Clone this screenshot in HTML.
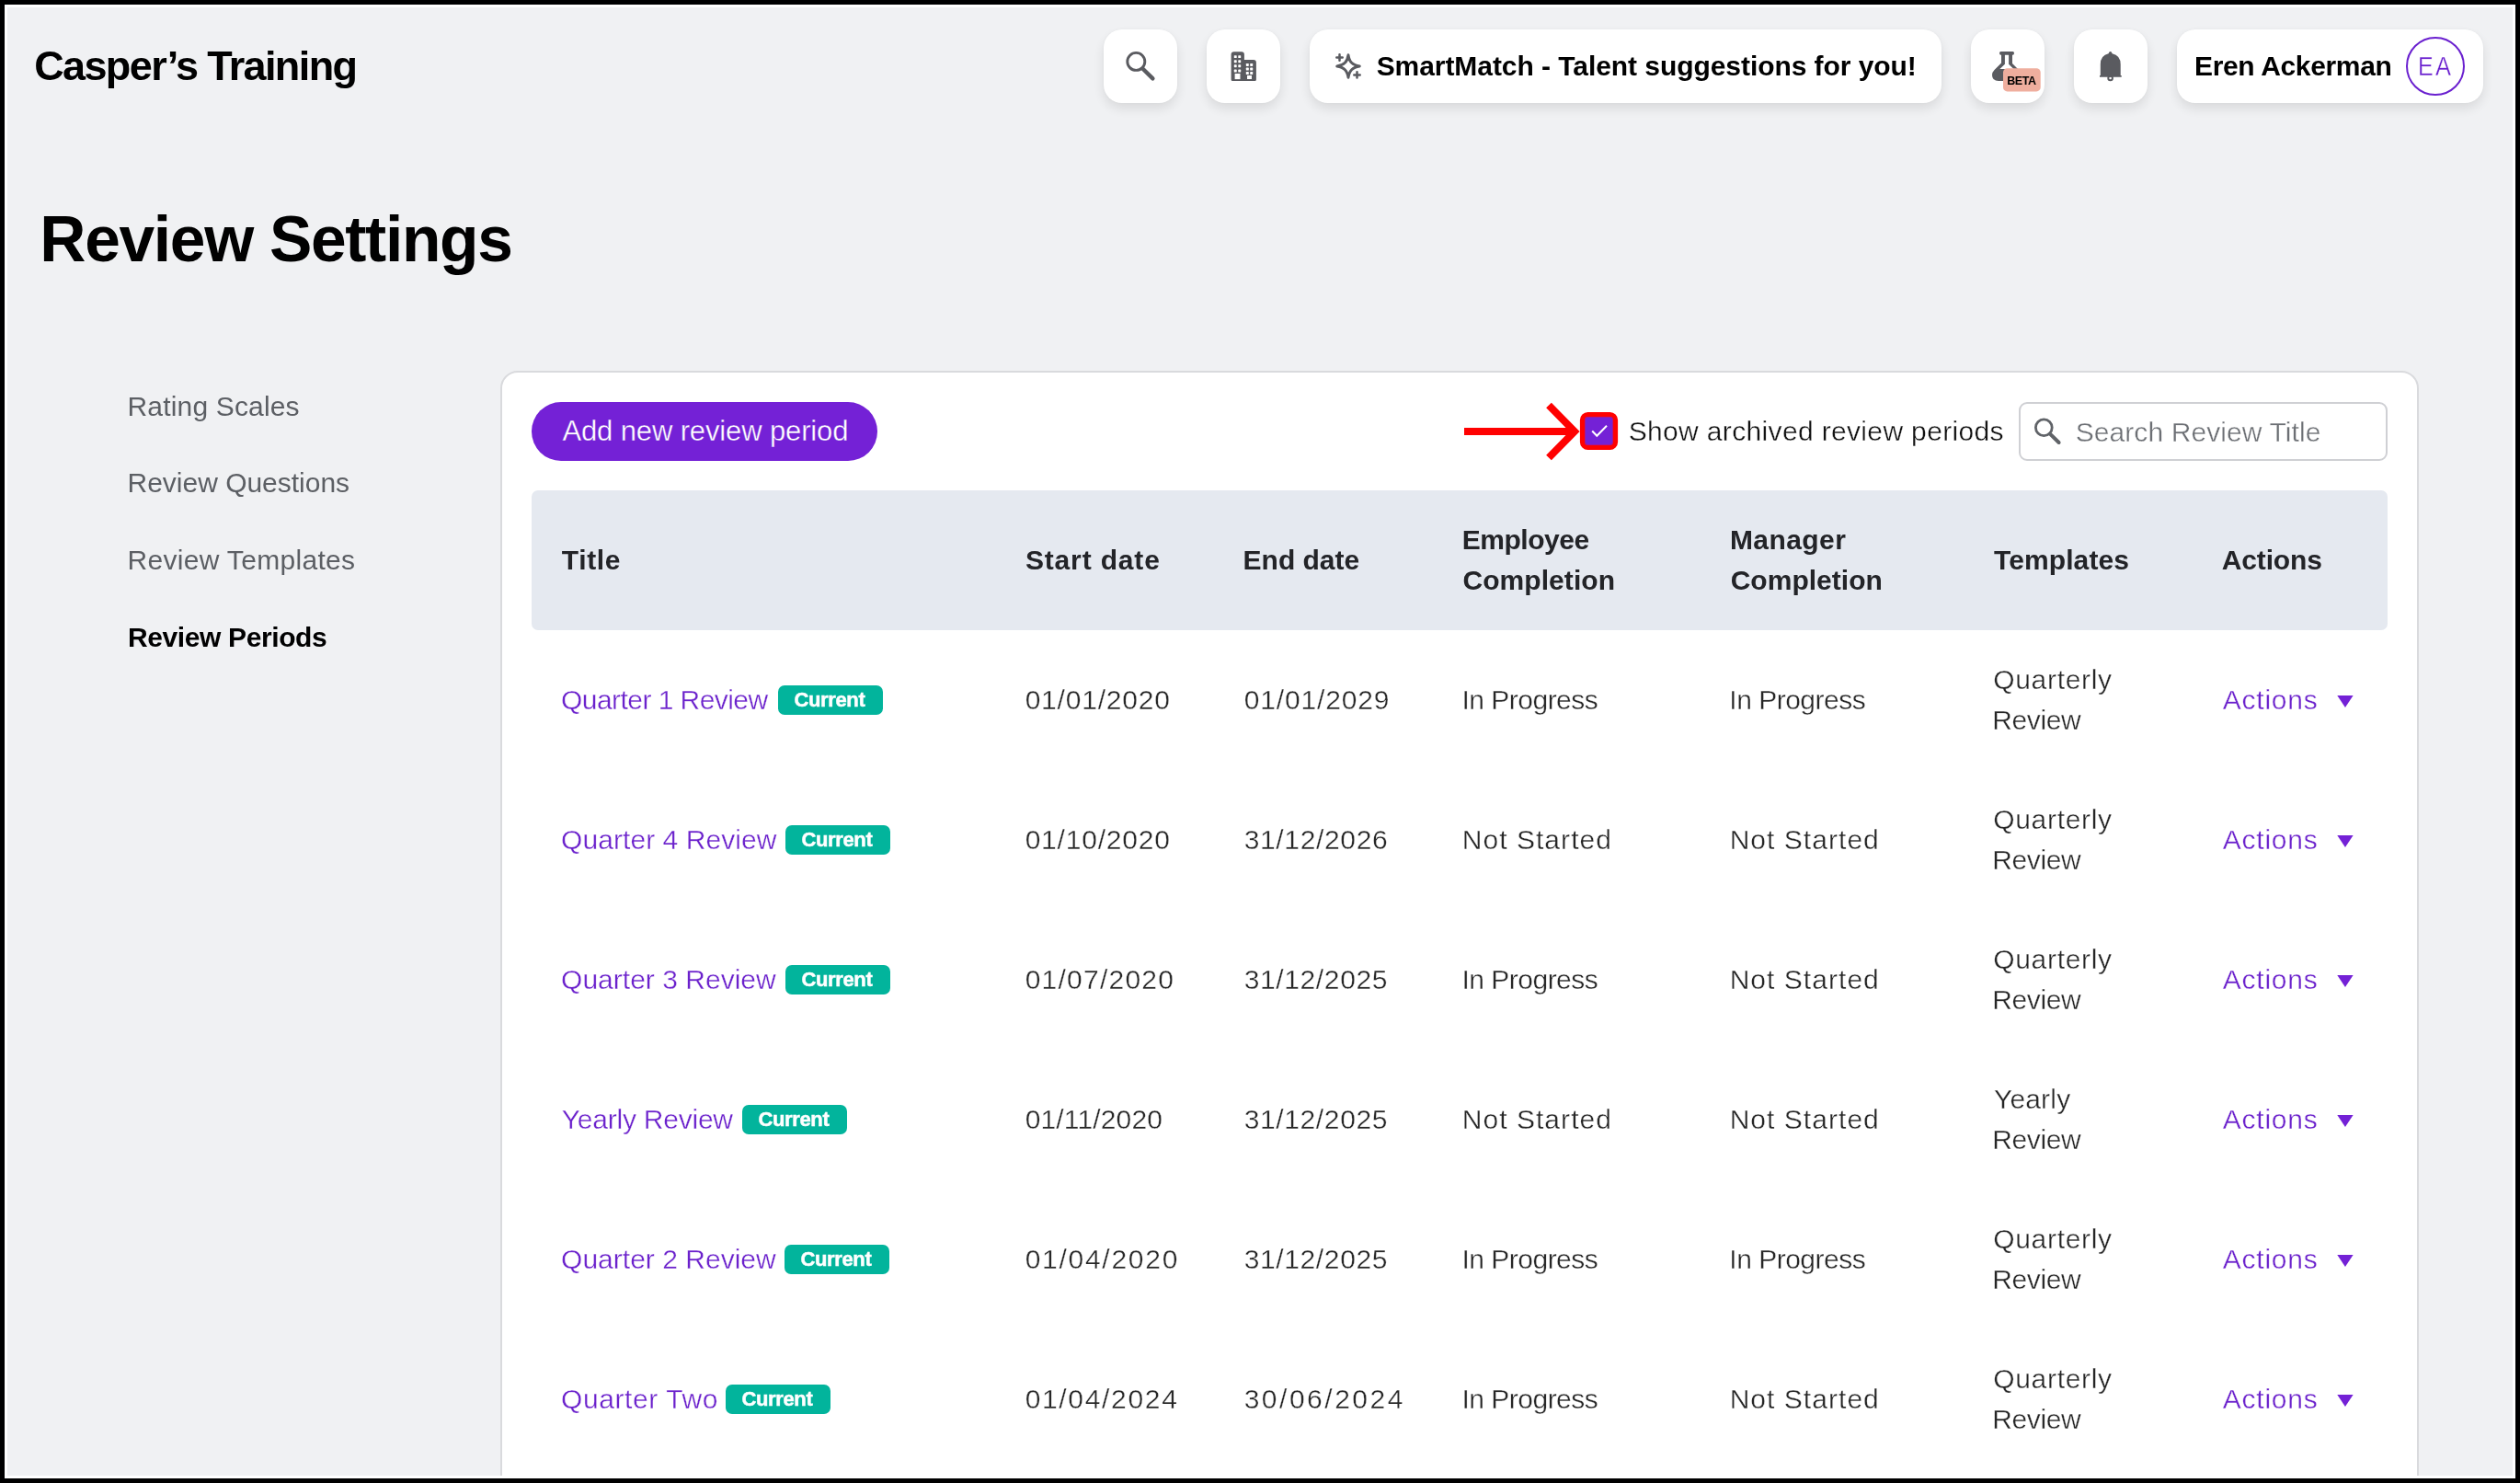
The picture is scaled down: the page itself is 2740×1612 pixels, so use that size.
<!DOCTYPE html>
<html><head><meta charset="utf-8"><title>Review Settings</title>
<style>
*{margin:0;padding:0;box-sizing:border-box}
html,body{width:2740px;height:1612px;overflow:hidden;background:#000}
body{position:relative;font-family:"Liberation Sans",sans-serif}
.t{position:absolute;white-space:nowrap}
.ab{position:absolute}
.hb{position:absolute;top:32px;height:80px;background:#fff;border-radius:20px;box-shadow:0 6px 14px rgba(0,0,0,.105),0 0 4px rgba(0,0,0,.035)}
.badge{width:114px;height:32px;background:#02b49c;border-radius:7px}
</style></head>
<body>
<div style="position:absolute;left:5px;top:5px;width:2730px;height:1602px;background:#fff"></div>
<div style="position:absolute;left:8px;top:8px;width:2724px;height:1596px;background:#f0f1f3;overflow:hidden" id="pg"><div style="position:absolute;left:-8px;top:-8px;width:2740px;height:1612px;opacity:.999">
<div class="t" style="left:37.16px;top:48.70px;font-size:45px;line-height:45px;font-weight:700;color:#000;letter-spacing:-1.611px;">Casper’s Training</div>
<div class="hb" style="left:1200px;width:80px"></div>
<div class="hb" style="left:1312px;width:80px"></div>
<div class="hb" style="left:1424px;width:687px"></div>
<div class="hb" style="left:2143px;width:80px"></div>
<div class="hb" style="left:2255px;width:80px"></div>
<div class="hb" style="left:2367px;width:333px"></div>
<svg class="ab" style="left:1220px;top:52px" width="40" height="40" viewBox="0 0 40 40">
<circle cx="15.3" cy="14.9" r="9.5" fill="none" stroke="#5a5b60" stroke-width="2.9"/>
<line x1="22.6" y1="22.8" x2="33.4" y2="33.4" stroke="#5a5b60" stroke-width="4.4" stroke-linecap="round"/></svg>
<svg class="ab" style="left:1330px;top:50px" width="44" height="44" viewBox="0 0 44 44">
<path d="M8.6 9.2 Q8.6 6.2 11.6 6.2 L19.9 6.2 Q22.9 6.2 22.9 9.2 L22.9 14.9 L32.9 14.9 Q35.9 14.9 35.9 17.9 L35.9 36.4 Q35.9 37.9 34.4 37.9 L10.1 37.9 Q8.6 37.9 8.6 36.4 Z" fill="#5a5b60"/>
<g fill="#fff">
<rect x="11.8" y="10.2" width="2.9" height="2.9" rx=".6"/><rect x="16.3" y="10.2" width="2.9" height="2.9" rx=".6"/>
<rect x="11.8" y="15.3" width="2.9" height="2.9" rx=".6"/><rect x="16.3" y="15.3" width="2.9" height="2.9" rx=".6"/>
<rect x="11.8" y="20.3" width="2.9" height="2.9" rx=".6"/><rect x="16.3" y="20.3" width="2.9" height="2.9" rx=".6"/>
<rect x="11.8" y="25.6" width="2.9" height="2.9" rx=".6"/><rect x="16.3" y="25.6" width="2.9" height="2.9" rx=".6"/>
<rect x="12.6" y="30" width="5.9" height="6.1"/>
<rect x="24.8" y="18.9" width="3" height="3" rx=".6"/><rect x="29.2" y="18.9" width="3" height="3" rx=".6"/>
<rect x="24.8" y="23.6" width="3" height="3" rx=".6"/><rect x="29.2" y="23.6" width="3" height="3" rx=".6"/>
<rect x="24.8" y="28" width="3" height="3" rx=".6"/><rect x="29.2" y="28" width="3" height="3" rx=".6"/>
<rect x="26" y="32" width="5" height="4"/>
</g></svg>
<svg class="ab" style="left:1446px;top:52px" width="40" height="40" viewBox="0 0 40 40">
<path d="M20 7.7 C21.2 15.5 24.5 18.8 32.3 20 C24.5 21.2 21.2 24.5 20 32.3 C18.8 24.5 15.5 21.2 7.7 20 C15.5 18.8 18.8 15.5 20 7.7 Z" fill="none" stroke="#5a5b60" stroke-width="2.9" stroke-linejoin="round"/>
<path d="M10.5 7.3 V13.7 M7.3 10.5 H13.7" stroke="#5a5b60" stroke-width="2.5" stroke-linecap="round"/>
<path d="M29.5 26.2 V32.6 M26.3 29.4 H32.7" stroke="#5a5b60" stroke-width="2.5" stroke-linecap="round"/>
</svg>
<div class="t" style="left:1496.63px;top:57.00px;font-size:30px;line-height:30px;font-weight:700;color:#000;letter-spacing:-0.058px;">SmartMatch - Talent suggestions for you!</div>
<svg class="ab" style="left:2155px;top:45px" width="70" height="60" viewBox="0 0 70 60">
<path d="M20.5 11 H33.5 Q35 11 35 12.8 Q35 14.8 33.5 14.8 H33 V24 L41 32 L41 43 L18 43 Q11 43 11 36.5 Q11 33.5 13.5 31 L21 23.5 V14.8 H20.5 Q19 14.8 19 12.8 Q19 11 20.5 11 Z M24.9 14.8 V24.8 L19.4 30 H34.4 L29.1 24.8 V14.8 Z" fill="#5a5b60" fill-rule="evenodd"/>
<rect x="23" y="29.3" width="40.7" height="25.1" rx="4.5" fill="#efae9e"/>
</svg>
<div class="t" style="left:2182.16px;top:81.50px;font-size:12.5px;line-height:12.5px;font-weight:700;color:#000;letter-spacing:-0.379px;">BETA</div>
<svg class="ab" style="left:2270px;top:45px" width="50" height="50" viewBox="0 0 50 50">
<path d="M24.6 11 Q26 11 26.6 13.3 Q35.7 15.2 35.7 25 V37 H36.7 V38.8 H13 V37 H13.8 V25 Q13.8 15.2 22.6 13.3 Q23.2 11 24.6 11 Z" fill="#5a5b60"/>
<circle cx="24.6" cy="40.0" r="2.3" fill="none" stroke="#5a5b60" stroke-width="2"/>
</svg>
<div class="t" style="left:2385.99px;top:57.20px;font-size:30px;line-height:30px;font-weight:700;color:#000;letter-spacing:-0.344px;">Eren Ackerman</div>
<div class="ab" style="left:2616px;top:40px;width:64px;height:64px;border:2px solid #6a20cf;border-radius:50%"></div>
<div class="t" style="left:2628.82px;top:57.60px;font-size:29px;line-height:29px;font-weight:400;color:#6a20cf;letter-spacing:0.000px;-webkit-text-stroke:0.35px #fff;transform:scaleX(.86);transform-origin:0 0">E</div>
<div class="t" style="left:2648.14px;top:57.60px;font-size:29px;line-height:29px;font-weight:400;color:#6a20cf;letter-spacing:0.000px;-webkit-text-stroke:0.35px #fff;transform:scaleX(.88);transform-origin:0 0">A</div>
<div class="t" style="left:43.34px;top:225.80px;font-size:69.5px;line-height:69.5px;font-weight:700;color:#000;letter-spacing:-1.321px;">Review Settings</div>
<div class="t" style="left:138.54px;top:426.50px;font-size:30px;line-height:30px;font-weight:400;color:#5c5f64;letter-spacing:0.162px;">Rating Scales</div>
<div class="t" style="left:138.54px;top:510.20px;font-size:30px;line-height:30px;font-weight:400;color:#5c5f64;letter-spacing:-0.015px;">Review Questions</div>
<div class="t" style="left:138.54px;top:593.90px;font-size:30px;line-height:30px;font-weight:400;color:#5c5f64;letter-spacing:0.311px;">Review Templates</div>
<div class="t" style="left:138.99px;top:678.00px;font-size:30px;line-height:30px;font-weight:700;color:#000;letter-spacing:-0.386px;">Review Periods</div>
<div class="ab" style="left:544px;top:403px;width:2086px;height:1400px;background:#fff;border:2px solid #d9dadd;border-radius:19px"></div>
<div class="ab" style="left:578px;top:437px;width:376px;height:64px;background:#7421d6;border-radius:32px"></div>
<div class="t" style="left:611.44px;top:453.30px;font-size:31px;line-height:31px;font-weight:400;color:#fff;letter-spacing:-0.129px;-webkit-text-stroke:0.35px #7421d6;">Add new review period</div>
<svg class="ab" style="left:1580px;top:425px" width="190" height="85" viewBox="0 0 190 85">
<line x1="12" y1="44" x2="133" y2="44" stroke="#f00" stroke-width="8"/>
<polyline points="104,15.5 132,44 104,72.5" fill="none" stroke="#f00" stroke-width="8" stroke-linejoin="miter"/>
<rect x="140.5" y="25.5" width="36" height="36" rx="6" fill="#7421d6" stroke="#f00" stroke-width="5.2"/>
<rect x="143.3" y="28.3" width="30.4" height="30.4" rx="4.5" fill="none" stroke="#d0105a" stroke-width=".9" opacity=".7"/>
<polyline points="151.2,43.5 156.3,48.8 167,37.8" fill="none" stroke="#fff" stroke-width="2"/>
</svg>
<div class="t" style="left:1770.65px;top:454.00px;font-size:30px;line-height:30px;font-weight:400;color:#111;letter-spacing:0.349px;-webkit-text-stroke:0.35px #fff;">Show archived review periods</div>
<div class="ab" style="left:2195px;top:437px;width:401px;height:64px;border:2px solid #cfd0d4;border-radius:9px;background:#fff"></div>
<svg class="ab" style="left:2205px;top:448px" width="44" height="44" viewBox="0 0 44 44">
<circle cx="17.3" cy="16.8" r="8.9" fill="none" stroke="#606368" stroke-width="2.8"/>
<line x1="24" y1="23.6" x2="33.6" y2="33" stroke="#606368" stroke-width="4" stroke-linecap="round"/></svg>
<div class="t" style="left:2256.65px;top:454.90px;font-size:30px;line-height:30px;font-weight:400;color:#6c6f74;letter-spacing:0.087px;-webkit-text-stroke:0.35px #fff;">Search Review Title</div>
<div class="ab" style="left:578px;top:533px;width:2018px;height:152px;background:#e5e9f0;border-radius:7px"></div>
<div class="t" style="left:610.77px;top:593.90px;font-size:30px;line-height:30px;font-weight:700;color:#232428;letter-spacing:0.635px;">Title</div>
<div class="t" style="left:1114.93px;top:593.90px;font-size:30px;line-height:30px;font-weight:700;color:#232428;letter-spacing:0.837px;">Start date</div>
<div class="t" style="left:1351.59px;top:593.90px;font-size:30px;line-height:30px;font-weight:700;color:#232428;letter-spacing:-0.009px;">End date</div>
<div class="t" style="left:1589.69px;top:572.00px;font-size:30px;line-height:30px;font-weight:700;color:#232428;letter-spacing:-0.456px;">Employee</div>
<div class="t" style="left:1590.47px;top:616.10px;font-size:30px;line-height:30px;font-weight:700;color:#232428;letter-spacing:0.066px;">Completion</div>
<div class="t" style="left:1880.89px;top:572.00px;font-size:30px;line-height:30px;font-weight:700;color:#232428;letter-spacing:0.433px;">Manager</div>
<div class="t" style="left:1881.67px;top:616.10px;font-size:30px;line-height:30px;font-weight:700;color:#232428;letter-spacing:0.021px;">Completion</div>
<div class="t" style="left:2168.07px;top:594.00px;font-size:30px;line-height:30px;font-weight:700;color:#232428;letter-spacing:0.087px;">Templates</div>
<div class="t" style="left:2415.75px;top:594.00px;font-size:30px;line-height:30px;font-weight:700;color:#232428;letter-spacing:-0.138px;">Actions</div>
<div class="t" style="left:610.09px;top:745.80px;font-size:30px;line-height:30px;font-weight:400;color:#6b21cc;letter-spacing:-0.561px;-webkit-text-stroke:0.35px #fff;">Quarter 1 Review</div>
<div class="ab badge" style="left:846px;top:744.8px"></div>
<div class="t" style="left:863.40px;top:750.00px;font-size:22px;line-height:22px;font-weight:700;color:#fff;letter-spacing:-0.346px;-webkit-text-stroke:0.5px #fff;">Current</div>
<div class="t" style="left:1114.63px;top:745.80px;font-size:30px;line-height:30px;font-weight:400;color:#262626;letter-spacing:0.799px;-webkit-text-stroke:0.35px #fff;">01/01/2020</div>
<div class="t" style="left:1352.63px;top:745.80px;font-size:30px;line-height:30px;font-weight:400;color:#262626;letter-spacing:0.859px;-webkit-text-stroke:0.35px #fff;">01/01/2029</div>
<div class="t" style="left:1589.44px;top:745.80px;font-size:30px;line-height:30px;font-weight:400;color:#262626;letter-spacing:-0.505px;-webkit-text-stroke:0.35px #fff;">In Progress</div>
<div class="t" style="left:1880.34px;top:745.80px;font-size:30px;line-height:30px;font-weight:400;color:#262626;letter-spacing:-0.505px;-webkit-text-stroke:0.35px #fff;">In Progress</div>
<div class="t" style="left:2167.19px;top:723.90px;font-size:30px;line-height:30px;font-weight:400;color:#262626;letter-spacing:0.689px;-webkit-text-stroke:0.35px #fff;">Quarterly</div>
<div class="t" style="left:2166.14px;top:768.20px;font-size:30px;line-height:30px;font-weight:400;color:#262626;letter-spacing:-0.360px;-webkit-text-stroke:0.35px #fff;">Review</div>
<div class="t" style="left:2416.74px;top:745.80px;font-size:30px;line-height:30px;font-weight:400;color:#6b21cc;letter-spacing:0.778px;-webkit-text-stroke:0.35px #fff;">Actions</div>
<svg class="ab" style="left:2540px;top:754.8px" width="20" height="16" viewBox="0 0 20 16"><path d="M1.3 1 H18.6 L9.95 13.9 Z" fill="#7421d6"/></svg>
<div class="t" style="left:610.09px;top:897.80px;font-size:30px;line-height:30px;font-weight:400;color:#6b21cc;letter-spacing:0.059px;-webkit-text-stroke:0.35px #fff;">Quarter 4 Review</div>
<div class="ab badge" style="left:854px;top:896.8px"></div>
<div class="t" style="left:871.40px;top:902.00px;font-size:22px;line-height:22px;font-weight:700;color:#fff;letter-spacing:-0.346px;-webkit-text-stroke:0.5px #fff;">Current</div>
<div class="t" style="left:1114.63px;top:897.80px;font-size:30px;line-height:30px;font-weight:400;color:#262626;letter-spacing:0.799px;-webkit-text-stroke:0.35px #fff;">01/10/2020</div>
<div class="t" style="left:1352.66px;top:897.80px;font-size:30px;line-height:30px;font-weight:400;color:#262626;letter-spacing:0.657px;-webkit-text-stroke:0.35px #fff;">31/12/2026</div>
<div class="t" style="left:1589.74px;top:897.80px;font-size:30px;line-height:30px;font-weight:400;color:#262626;letter-spacing:1.044px;-webkit-text-stroke:0.35px #fff;">Not Started</div>
<div class="t" style="left:1880.64px;top:897.80px;font-size:30px;line-height:30px;font-weight:400;color:#262626;letter-spacing:1.044px;-webkit-text-stroke:0.35px #fff;">Not Started</div>
<div class="t" style="left:2167.19px;top:875.90px;font-size:30px;line-height:30px;font-weight:400;color:#262626;letter-spacing:0.689px;-webkit-text-stroke:0.35px #fff;">Quarterly</div>
<div class="t" style="left:2166.14px;top:920.20px;font-size:30px;line-height:30px;font-weight:400;color:#262626;letter-spacing:-0.360px;-webkit-text-stroke:0.35px #fff;">Review</div>
<div class="t" style="left:2416.74px;top:897.80px;font-size:30px;line-height:30px;font-weight:400;color:#6b21cc;letter-spacing:0.778px;-webkit-text-stroke:0.35px #fff;">Actions</div>
<svg class="ab" style="left:2540px;top:906.8px" width="20" height="16" viewBox="0 0 20 16"><path d="M1.3 1 H18.6 L9.95 13.9 Z" fill="#7421d6"/></svg>
<div class="t" style="left:610.09px;top:1049.80px;font-size:30px;line-height:30px;font-weight:400;color:#6b21cc;letter-spacing:0.013px;-webkit-text-stroke:0.35px #fff;">Quarter 3 Review</div>
<div class="ab badge" style="left:854px;top:1048.8px"></div>
<div class="t" style="left:871.40px;top:1054.00px;font-size:22px;line-height:22px;font-weight:700;color:#fff;letter-spacing:-0.346px;-webkit-text-stroke:0.5px #fff;">Current</div>
<div class="t" style="left:1114.63px;top:1049.80px;font-size:30px;line-height:30px;font-weight:400;color:#262626;letter-spacing:1.243px;-webkit-text-stroke:0.35px #fff;">01/07/2020</div>
<div class="t" style="left:1352.66px;top:1049.80px;font-size:30px;line-height:30px;font-weight:400;color:#262626;letter-spacing:0.628px;-webkit-text-stroke:0.35px #fff;">31/12/2025</div>
<div class="t" style="left:1589.44px;top:1049.80px;font-size:30px;line-height:30px;font-weight:400;color:#262626;letter-spacing:-0.505px;-webkit-text-stroke:0.35px #fff;">In Progress</div>
<div class="t" style="left:1880.64px;top:1049.80px;font-size:30px;line-height:30px;font-weight:400;color:#262626;letter-spacing:1.044px;-webkit-text-stroke:0.35px #fff;">Not Started</div>
<div class="t" style="left:2167.19px;top:1027.90px;font-size:30px;line-height:30px;font-weight:400;color:#262626;letter-spacing:0.689px;-webkit-text-stroke:0.35px #fff;">Quarterly</div>
<div class="t" style="left:2166.14px;top:1072.20px;font-size:30px;line-height:30px;font-weight:400;color:#262626;letter-spacing:-0.360px;-webkit-text-stroke:0.35px #fff;">Review</div>
<div class="t" style="left:2416.74px;top:1049.80px;font-size:30px;line-height:30px;font-weight:400;color:#6b21cc;letter-spacing:0.778px;-webkit-text-stroke:0.35px #fff;">Actions</div>
<svg class="ab" style="left:2540px;top:1058.8px" width="20" height="16" viewBox="0 0 20 16"><path d="M1.3 1 H18.6 L9.95 13.9 Z" fill="#7421d6"/></svg>
<div class="t" style="left:610.84px;top:1201.80px;font-size:30px;line-height:30px;font-weight:400;color:#6b21cc;letter-spacing:-0.233px;-webkit-text-stroke:0.35px #fff;">Yearly Review</div>
<div class="ab badge" style="left:807px;top:1200.8px"></div>
<div class="t" style="left:824.40px;top:1206.00px;font-size:22px;line-height:22px;font-weight:700;color:#fff;letter-spacing:-0.346px;-webkit-text-stroke:0.5px #fff;">Current</div>
<div class="t" style="left:1114.63px;top:1201.80px;font-size:30px;line-height:30px;font-weight:400;color:#262626;letter-spacing:0.157px;-webkit-text-stroke:0.35px #fff;">01/11/2020</div>
<div class="t" style="left:1352.66px;top:1201.80px;font-size:30px;line-height:30px;font-weight:400;color:#262626;letter-spacing:0.628px;-webkit-text-stroke:0.35px #fff;">31/12/2025</div>
<div class="t" style="left:1589.74px;top:1201.80px;font-size:30px;line-height:30px;font-weight:400;color:#262626;letter-spacing:1.044px;-webkit-text-stroke:0.35px #fff;">Not Started</div>
<div class="t" style="left:1880.64px;top:1201.80px;font-size:30px;line-height:30px;font-weight:400;color:#262626;letter-spacing:1.044px;-webkit-text-stroke:0.35px #fff;">Not Started</div>
<div class="t" style="left:2167.94px;top:1179.90px;font-size:30px;line-height:30px;font-weight:400;color:#262626;letter-spacing:0.186px;-webkit-text-stroke:0.35px #fff;">Yearly</div>
<div class="t" style="left:2166.14px;top:1224.20px;font-size:30px;line-height:30px;font-weight:400;color:#262626;letter-spacing:-0.360px;-webkit-text-stroke:0.35px #fff;">Review</div>
<div class="t" style="left:2416.74px;top:1201.80px;font-size:30px;line-height:30px;font-weight:400;color:#6b21cc;letter-spacing:0.778px;-webkit-text-stroke:0.35px #fff;">Actions</div>
<svg class="ab" style="left:2540px;top:1210.8px" width="20" height="16" viewBox="0 0 20 16"><path d="M1.3 1 H18.6 L9.95 13.9 Z" fill="#7421d6"/></svg>
<div class="t" style="left:610.09px;top:1353.80px;font-size:30px;line-height:30px;font-weight:400;color:#6b21cc;letter-spacing:0.013px;-webkit-text-stroke:0.35px #fff;">Quarter 2 Review</div>
<div class="ab badge" style="left:853px;top:1352.8px"></div>
<div class="t" style="left:870.40px;top:1358.00px;font-size:22px;line-height:22px;font-weight:700;color:#fff;letter-spacing:-0.346px;-webkit-text-stroke:0.5px #fff;">Current</div>
<div class="t" style="left:1114.63px;top:1353.80px;font-size:30px;line-height:30px;font-weight:400;color:#262626;letter-spacing:1.732px;-webkit-text-stroke:0.35px #fff;">01/04/2020</div>
<div class="t" style="left:1352.66px;top:1353.80px;font-size:30px;line-height:30px;font-weight:400;color:#262626;letter-spacing:0.628px;-webkit-text-stroke:0.35px #fff;">31/12/2025</div>
<div class="t" style="left:1589.44px;top:1353.80px;font-size:30px;line-height:30px;font-weight:400;color:#262626;letter-spacing:-0.505px;-webkit-text-stroke:0.35px #fff;">In Progress</div>
<div class="t" style="left:1880.34px;top:1353.80px;font-size:30px;line-height:30px;font-weight:400;color:#262626;letter-spacing:-0.505px;-webkit-text-stroke:0.35px #fff;">In Progress</div>
<div class="t" style="left:2167.19px;top:1331.90px;font-size:30px;line-height:30px;font-weight:400;color:#262626;letter-spacing:0.689px;-webkit-text-stroke:0.35px #fff;">Quarterly</div>
<div class="t" style="left:2166.14px;top:1376.20px;font-size:30px;line-height:30px;font-weight:400;color:#262626;letter-spacing:-0.360px;-webkit-text-stroke:0.35px #fff;">Review</div>
<div class="t" style="left:2416.74px;top:1353.80px;font-size:30px;line-height:30px;font-weight:400;color:#6b21cc;letter-spacing:0.778px;-webkit-text-stroke:0.35px #fff;">Actions</div>
<svg class="ab" style="left:2540px;top:1362.8px" width="20" height="16" viewBox="0 0 20 16"><path d="M1.3 1 H18.6 L9.95 13.9 Z" fill="#7421d6"/></svg>
<div class="t" style="left:610.09px;top:1505.80px;font-size:30px;line-height:30px;font-weight:400;color:#6b21cc;letter-spacing:0.575px;-webkit-text-stroke:0.35px #fff;">Quarter Two</div>
<div class="ab badge" style="left:789px;top:1504.8px"></div>
<div class="t" style="left:806.40px;top:1510.00px;font-size:22px;line-height:22px;font-weight:700;color:#fff;letter-spacing:-0.346px;-webkit-text-stroke:0.5px #fff;">Current</div>
<div class="t" style="left:1114.63px;top:1505.80px;font-size:30px;line-height:30px;font-weight:400;color:#262626;letter-spacing:1.677px;-webkit-text-stroke:0.35px #fff;">01/04/2024</div>
<div class="t" style="left:1352.66px;top:1505.80px;font-size:30px;line-height:30px;font-weight:400;color:#262626;letter-spacing:2.518px;-webkit-text-stroke:0.35px #fff;">30/06/2024</div>
<div class="t" style="left:1589.44px;top:1505.80px;font-size:30px;line-height:30px;font-weight:400;color:#262626;letter-spacing:-0.505px;-webkit-text-stroke:0.35px #fff;">In Progress</div>
<div class="t" style="left:1880.64px;top:1505.80px;font-size:30px;line-height:30px;font-weight:400;color:#262626;letter-spacing:1.044px;-webkit-text-stroke:0.35px #fff;">Not Started</div>
<div class="t" style="left:2167.19px;top:1483.90px;font-size:30px;line-height:30px;font-weight:400;color:#262626;letter-spacing:0.689px;-webkit-text-stroke:0.35px #fff;">Quarterly</div>
<div class="t" style="left:2166.14px;top:1528.20px;font-size:30px;line-height:30px;font-weight:400;color:#262626;letter-spacing:-0.360px;-webkit-text-stroke:0.35px #fff;">Review</div>
<div class="t" style="left:2416.74px;top:1505.80px;font-size:30px;line-height:30px;font-weight:400;color:#6b21cc;letter-spacing:0.778px;-webkit-text-stroke:0.35px #fff;">Actions</div>
<svg class="ab" style="left:2540px;top:1514.8px" width="20" height="16" viewBox="0 0 20 16"><path d="M1.3 1 H18.6 L9.95 13.9 Z" fill="#7421d6"/></svg>
</div></div>
</body></html>
